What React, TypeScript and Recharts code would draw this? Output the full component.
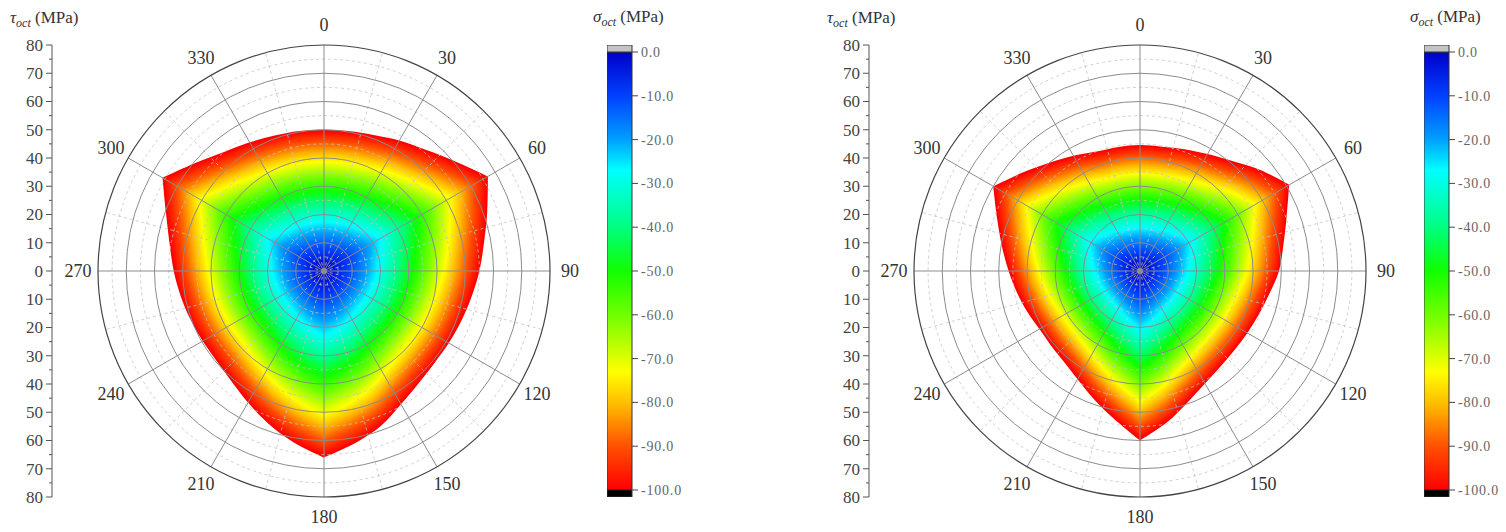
import React from 'react';
import {
  RadarChart, Radar, PolarGrid, PolarAngleAxis, PolarRadiusAxis,
  ComposedChart, Bar, XAxis, YAxis,
} from 'recharts';

// Lode angle samples (deg) and the boundary of tau_oct (MPa)
const ANGLES = [0, 10, 20, 30, 40, 50, 60, 70, 80, 90, 100, 110, 120, 130, 140, 150, 160, 170,
  180, 190, 200, 210, 220, 230, 240, 250, 260, 270, 280, 290, 300, 310, 320, 330, 340, 350];
const LEFT_R = [50, 50.3, 51.2, 53.3, 56, 60.5, 67, 61.5, 57.5, 55, 53, 51.7, 51, 50.9, 52, 54.5, 58.5, 62,
  66, 61.6, 57.5, 53.8, 51, 49.6, 49.6, 50.3, 51.5, 53.2, 55.5, 59.5, 66, 59.5, 55, 52.6, 51, 50.3];
const RIGHT_R = [44.6, 44.7, 45.9, 47.8, 50.8, 55.6, 61, 55.2, 51.5, 49.2, 46.5, 44.8, 43.9, 43.6, 44.2, 46, 49.4, 54.5,
  60, 53.1, 48.1, 44.2, 41.9, 41.1, 41.1, 42.4, 44.2, 46.5, 49.6, 53.8, 60, 54.2, 50, 47.1, 45, 44.6];

const TAU_MAX = 80;
const TAU_TICKS = [80, 75, 70, 65, 60, 55, 50, 45, 40, 35, 30, 25, 20, 15, 10, 5, 0,
  -5, -10, -15, -20, -25, -30, -35, -40, -45, -50, -55, -60, -65, -70, -75, -80];
const GRID_MAJOR = [10, 20, 30, 40, 50, 60, 70];
const GRID_MINOR = [5, 15, 25, 35, 45, 55, 65, 75];
const SPOKES_MAJOR = [0, 30, 60, 90, 120, 150, 180, 210, 240, 270, 300, 330];
const SPOKES_MINOR = [15, 45, 75, 105, 135, 165, 195, 225, 255, 285, 315, 345];

const SIGMA_TICKS = [0, -10, -20, -30, -40, -50, -60, -70, -80, -90, -100];
const SIGMA_BAR = [{ name: 'sigma', cap: 1.6, scale: -100, under: -1.6 }];

const JET: [number, string][] = [
  [0.0, '#0000c8'], [0.1, '#0040ff'], [0.2, '#00a0ff'], [0.27, '#00ffff'],
  [0.4, '#00ff80'], [0.5, '#10ff00'], [0.6, '#70ff00'], [0.73, '#ffff00'],
  [0.8, '#ffc000'], [0.9, '#ff5000'], [1.0, '#ff0000'],
];

const FONT = '"Liberation Serif", "DejaVu Serif", serif';
const W = 540, H = 530, CX = 270, CY = 270, R_OUT = 226;
const BANDS = 90;

function hex(c: string) {
  return [1, 3, 5].map(i => parseInt(c.slice(i, i + 2), 16));
}

function jet(f: number) {
  const t = Math.max(0, Math.min(1, f));
  for (let i = 1; i < JET.length; i++) {
    if (t <= JET[i][0]) {
      const [p0, c0] = JET[i - 1];
      const [p1, c1] = JET[i];
      const u = (t - p0) / (p1 - p0);
      const a = hex(c0), b = hex(c1);
      const m = a.map((v, j) => Math.round(v + (b[j] - v) * u));
      return `rgb(${m[0]},${m[1]},${m[2]})`;
    }
  }
  return JET[JET.length - 1][1];
}

// closed cardinal curve through the radar points, kept sharp at the three corners
function outline(pts: any[]) {
  const n = pts.length;
  const rad = pts.map(p => p.radius ?? Math.hypot(p.x - CX, p.y - CY));
  const tan = (i: number) => {
    const a = (i - 1 + n) % n, b = (i + 1) % n;
    if (rad[i] > rad[a] + 4 && rad[i] > rad[b] + 4) return { x: 0, y: 0 };
    return { x: (pts[b].x - pts[a].x) / 6, y: (pts[b].y - pts[a].y) / 6 };
  };
  const f = (v: number) => v.toFixed(2);
  let d = `M${f(pts[0].x)},${f(pts[0].y)}`;
  for (let i = 0; i < n; i++) {
    const j = (i + 1) % n;
    const t0 = tan(i), t1 = tan(j);
    d += `C${f(pts[i].x + t0.x)},${f(pts[i].y + t0.y)} ${f(pts[j].x - t1.x)},${f(pts[j].y - t1.y)} ${f(pts[j].x)},${f(pts[j].y)}`;
  }
  return d + 'Z';
}

// fills the boundary with nested scaled copies, blue in the middle, red at the edge
function ContourShape(props: any) {
  const pts = props.points || [];
  if (!pts.length) return <g />;
  const d = outline(pts);
  const bands = [];
  for (let i = BANDS; i >= 1; i--) {
    const k = i / BANDS;
    bands.push(
      <path key={i} d={d} fill={jet(Math.pow(k, 1.25))} stroke="none"
            transform={`translate(${CX} ${CY}) scale(${k}) translate(${-CX} ${-CY})`} />
    );
  }
  return <g>{bands}</g>;
}

function AngleTick(props: any) {
  const v = props.payload?.value;
  if (v % 30 !== 0) return <g />;
  const a = (props.payload.coordinate * Math.PI) / 180;
  const r = R_OUT + 20;
  return (
    <text x={CX + r * Math.cos(a)} y={CY - r * Math.sin(a)} textAnchor="middle"
          dominantBaseline="central" fontSize={18} fill="#333" fontFamily={FONT}>
      {v}
    </text>
  );
}

const AX = 52;
function TauTick(props: any) {
  const v = props.payload?.value;
  const major = v % 10 === 0;
  return (
    <g>
      <line x1={AX - (major ? 6 : 3)} x2={AX} y1={props.y} y2={props.y} stroke="#555" />
      {major && (
        <text x={AX - 9} y={props.y} dy="0.35em" textAnchor="end" fontSize={17} fill="#444" fontFamily={FONT}>
          {Math.abs(v)}
        </text>
      )}
    </g>
  );
}

const px = (v: number) => (v / TAU_MAX) * R_OUT;

function Panel({ left, radii, axisLeft, barLeft, gid }: { left: number; radii: number[]; axisLeft: number; barLeft: number; gid: string }) {
  const rows = ANGLES.map((a, i) => ({ angle: a, r: radii[i] }));
  return (
    <>
      <div style={{ position: 'absolute', left: axisLeft + 10, top: 9, fontSize: 17, lineHeight: 1, color: '#333', whiteSpace: 'nowrap' }}>
        <i>τ</i><sub style={{ fontStyle: 'italic', fontSize: 12 }}>oct</sub> (MPa)
      </div>
      <div style={{ position: 'absolute', left: axisLeft, top: 35 }}>
        <ComposedChart width={60} height={472} data={[{ v: 0 }]} margin={{ top: 10, right: 0, bottom: 10, left: 0 }}>
          <XAxis dataKey="v" hide />
          <YAxis type="number" domain={[-TAU_MAX, TAU_MAX]} ticks={TAU_TICKS} interval={0} width={AX}
                 axisLine={{ stroke: '#555' }} tickLine={false} tick={(p: any) => <TauTick {...p} />} allowDataOverflow />
        </ComposedChart>
      </div>

      <div style={{ position: 'absolute', left, top: 1 }}>
        <RadarChart width={W} height={H} data={rows} cx={CX} cy={CY} outerRadius={R_OUT}
                    startAngle={90} endAngle={-270} margin={{ top: 0, right: 0, bottom: 0, left: 0 }}>
          <PolarAngleAxis dataKey="angle" tick={false} axisLine={false} tickLine={false} />
          <PolarRadiusAxis type="number" domain={[0, TAU_MAX]} tick={false} axisLine={false} />
          <Radar dataKey="r" shape={ContourShape} stroke="none" fill="#f00" dot={false} isAnimationActive={false} />
        </RadarChart>
      </div>
      <div style={{ position: 'absolute', left, top: 1, pointerEvents: 'none' }}>
        <RadarChart width={W} height={H} data={rows} cx={CX} cy={CY} outerRadius={R_OUT}
                    startAngle={90} endAngle={-270} margin={{ top: 0, right: 0, bottom: 0, left: 0 }}>
          <PolarGrid gridType="circle" innerRadius={px(5)} polarRadius={GRID_MINOR.map(px)} polarAngles={SPOKES_MINOR}
                     stroke="#c4c4c4" strokeDasharray="3 3" strokeWidth={0.8} />
          <PolarGrid gridType="circle" polarRadius={GRID_MAJOR.map(px)} polarAngles={SPOKES_MAJOR}
                     stroke="#8c8c8c" strokeWidth={1} />
          <PolarAngleAxis dataKey="angle" axisLineType="circle" axisLine={{ stroke: '#444', strokeWidth: 1.2 }}
                          tickLine={false} tick={(p: any) => <AngleTick {...p} />} />
          <PolarRadiusAxis type="number" domain={[0, TAU_MAX]} tick={false} axisLine={false} />
        </RadarChart>
      </div>

      <div style={{ position: 'absolute', left: barLeft - 14, top: 8, fontSize: 17, lineHeight: 1, color: '#333', whiteSpace: 'nowrap' }}>
        <i>σ</i><sub style={{ fontStyle: 'italic', fontSize: 12 }}>oct</sub> (MPa)
      </div>
      <div style={{ position: 'absolute', left: barLeft, top: 35 }}>
        <ComposedChart width={95} height={472} data={SIGMA_BAR} stackOffset="sign" barCategoryGap={0}
                       margin={{ top: 10, right: 0, bottom: 10, left: 0 }}>
          <defs>
            <linearGradient id={gid} x1="0" y1="0" x2="0" y2="1">
              {JET.map(([p, c]) => <stop key={p} offset={p} stopColor={c} />)}
            </linearGradient>
          </defs>
          <XAxis dataKey="name" hide />
          <YAxis orientation="right" type="number" domain={[-101.6, 1.6]} ticks={SIGMA_TICKS} interval={0} width={70}
                 tickFormatter={(v: number) => v.toFixed(1)} tickSize={6} tickMargin={3}
                 axisLine={false} tickLine={{ stroke: '#444' }}
                 tick={{ fontSize: 14, fill: '#666', fontFamily: FONT, letterSpacing: 0.8 }} allowDataOverflow />
          <Bar dataKey="scale" stackId="s" fill={`url(#${gid})`} stroke="#333" isAnimationActive={false} />
          <Bar dataKey="under" stackId="s" fill="#000" stroke="#333" isAnimationActive={false} />
          <Bar dataKey="cap" stackId="s" fill="#c4c4c4" stroke="#333" isAnimationActive={false} />
        </ComposedChart>
      </div>
    </>
  );
}

export default function App() {
  return (
    <div style={{ position: 'absolute', left: 0, top: 0, width: 1506, height: 532, background: '#fff', fontFamily: FONT, overflow: 'hidden' }}>
      <Panel left={54} radii={LEFT_R} axisLeft={0} barLeft={607} gid="jetL" />
      <Panel left={870} radii={RIGHT_R} axisLeft={817} barLeft={1424} gid="jetR" />
    </div>
  );
}
